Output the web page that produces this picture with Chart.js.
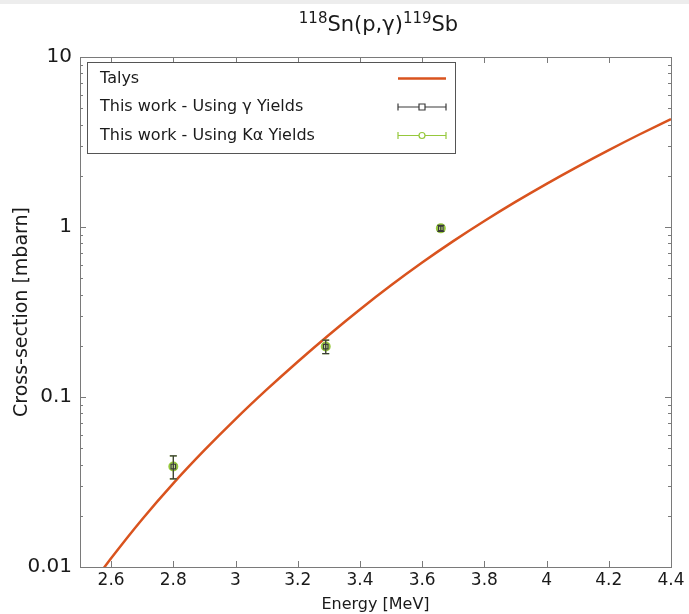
<!DOCTYPE html>
<html>
<head>
<meta charset="utf-8">
<script src="https://cdn.jsdelivr.net/npm/chart.js@4.4.0/dist/chart.umd.min.js"></script>
<style>
  html, body { margin: 0; padding: 0; background: #fff; }
  #wrap { width: 689px; height: 614px; position: relative; }
</style>
</head>
<body>
<div id="wrap"><canvas id="c" width="689" height="614"></canvas></div>
<script>
// Talys calculation (energy in MeV, cross-section in mbarn)
const talysEnergy = [2.55, 2.6, 2.7, 2.8, 2.9, 3.0, 3.1, 3.2, 3.3, 3.4, 3.5, 3.6, 3.7, 3.8, 3.9, 4.0, 4.1, 4.2, 4.3, 4.4];
const talysXs     = [0.00848, 0.01125, 0.0191, 0.03105, 0.04864, 0.07413, 0.1104, 0.1613, 0.2317, 0.3273, 0.4539, 0.618, 0.826, 1.085, 1.405, 1.795, 2.267, 2.835, 3.512, 4.315];

// Measured points
const expEnergy   = [2.80, 3.29, 3.66];
const gammaXs     = [0.039, 0.198, 0.982];
const gammaErr    = [0.006, 0.018, 0.040];
const kalphaXs    = [0.039, 0.198, 0.982];
const kalphaErr   = [0.006, 0.018, 0.040];

// Axis ticks
const xTicks      = [2.6, 2.8, 3.0, 3.2, 3.4, 3.6, 3.8, 4.0, 4.2, 4.4];
const xTickLabels = ['2.6', '2.8', '3', '3.2', '3.4', '3.6', '3.8', '4', '4.2', '4.4'];
const yTicks      = [0.01, 0.1, 1, 10];
const yTickLabels = ['0.01', '0.1', '1', '10'];

const FONT = "'DejaVu Sans', 'Liberation Sans', sans-serif";
const TALYS_COLOR = '#d9531e';
const GAMMA_COLOR = '#3a3a3a';
const KALPHA_COLOR = '#96c83c';
const FRAME_COLOR = '#7a7a7a';

const toXY = (xs, ys) => xs.map((x, i) => ({ x: x, y: ys[i] }));

// Vertical error bars, drawn just before each measured series' markers
const errorBarPlugin = {
  id: 'errorBars',
  beforeDatasetDraw(chart, args) {
    const ds = chart.data.datasets[args.index];
    if (!ds.yErr) return;
    const { ctx, scales: { x, y }, chartArea } = chart;
    ctx.save();
    ctx.beginPath();
    ctx.rect(chartArea.left, chartArea.top, chartArea.right - chartArea.left, chartArea.bottom - chartArea.top);
    ctx.clip();
    ctx.strokeStyle = ds.borderColor;
    ctx.lineWidth = 1.2;
    ds.data.forEach((p, i) => {
      const px = x.getPixelForValue(p.x);
      const yHi = y.getPixelForValue(p.y + ds.yErr[i]);
      const yLo = y.getPixelForValue(p.y - ds.yErr[i]);
      ctx.beginPath();
      ctx.moveTo(px, yHi); ctx.lineTo(px, yLo);
      ctx.moveTo(px - 3.5, yHi); ctx.lineTo(px + 3.5, yHi);
      ctx.moveTo(px - 3.5, yLo); ctx.lineTo(px + 3.5, yLo);
      ctx.stroke();
    });
    ctx.restore();
  }
};

// Box border with inward major/minor ticks on all four sides
const framePlugin = {
  id: 'frame',
  afterDatasetsDraw(chart) {
    const { ctx, chartArea: a, scales: { x, y } } = chart;
    ctx.save();
    ctx.strokeStyle = FRAME_COLOR;
    ctx.lineWidth = 1;
    ctx.beginPath();
    xTicks.forEach(v => {
      const px = Math.round(x.getPixelForValue(v)) + 0.5;
      ctx.moveTo(px, a.bottom); ctx.lineTo(px, a.bottom - 6);
      ctx.moveTo(px, a.top); ctx.lineTo(px, a.top + 6);
    });
    for (let d = 0.01; d < 5; d *= 10) {
      for (let k = 1; k <= 9; k++) {
        const py = Math.round(y.getPixelForValue(d * k)) + 0.5;
        const len = k === 1 ? 6 : 3;
        ctx.moveTo(a.left, py); ctx.lineTo(a.left + len, py);
        ctx.moveTo(a.right, py); ctx.lineTo(a.right - len, py);
      }
    }
    ctx.stroke();
    ctx.strokeRect(Math.round(a.left) + 0.5, Math.round(a.top) + 0.5,
                   Math.round(a.right - a.left), Math.round(a.bottom - a.top));
    ctx.restore();
  }
};

// Title with superscripted mass numbers
const titlePlugin = {
  id: 'isoTitle',
  afterDraw(chart) {
    const { ctx, chartArea: a } = chart;
    const parts = [
      { t: '118', sup: true }, { t: 'Sn(p,γ)', sup: false },
      { t: '119', sup: true }, { t: 'Sb', sup: false }
    ];
    const big = '21px ' + FONT, small = '15px ' + FONT;
    ctx.save();
    ctx.fillStyle = '#1a1a1a';
    ctx.textBaseline = 'alphabetic';
    let w = 0;
    parts.forEach(p => { ctx.font = p.sup ? small : big; p.w = ctx.measureText(p.t).width; w += p.w; });
    let cx = (a.left + a.right) / 2 - w / 2 + 3;
    const base = 31;
    parts.forEach(p => {
      ctx.font = p.sup ? small : big;
      ctx.fillText(p.t, cx, p.sup ? base - 8 : base);
      cx += p.w;
    });
    ctx.restore();
  }
};

// Legend box in the upper-left corner of the plot
const legendPlugin = {
  id: 'boxLegend',
  afterDraw(chart) {
    const { ctx } = chart;
    const box = { l: 87.5, t: 62.5, r: 455.5, b: 153.5 };
    const rows = [
      { label: 'Talys', kind: 'line', color: TALYS_COLOR, y: 78.5 },
      { label: 'This work - Using γ Yields', kind: 'rect', color: GAMMA_COLOR, y: 107 },
      { label: 'This work - Using Kα Yields', kind: 'circle', color: KALPHA_COLOR, y: 135.5 }
    ];
    ctx.save();
    ctx.fillStyle = '#fff';
    ctx.fillRect(box.l, box.t, box.r - box.l, box.b - box.t);
    ctx.strokeStyle = '#555';
    ctx.lineWidth = 1;
    ctx.strokeRect(box.l, box.t, box.r - box.l, box.b - box.t);
    ctx.font = '16px ' + FONT;
    ctx.textBaseline = 'middle';
    ctx.textAlign = 'left';
    const s0 = 398, s1 = 446, sc = 422;
    rows.forEach(r => {
      ctx.fillStyle = '#1a1a1a';
      ctx.fillText(r.label, 100, r.y);
      ctx.strokeStyle = r.color;
      if (r.kind === 'line') {
        ctx.lineWidth = 2.5;
        ctx.beginPath(); ctx.moveTo(s0, r.y); ctx.lineTo(s1, r.y); ctx.stroke();
      } else {
        ctx.lineWidth = 1.2;
        ctx.beginPath();
        ctx.moveTo(s0, r.y); ctx.lineTo(sc - 3, r.y);
        ctx.moveTo(sc + 3, r.y); ctx.lineTo(s1, r.y);
        ctx.moveTo(s0, r.y - 3.5); ctx.lineTo(s0, r.y + 3.5);
        ctx.moveTo(s1, r.y - 3.5); ctx.lineTo(s1, r.y + 3.5);
        ctx.stroke();
        ctx.beginPath();
        if (r.kind === 'rect') ctx.rect(sc - 3, r.y - 3, 6, 6);
        else ctx.arc(sc, r.y, 3, 0, Math.PI * 2);
        ctx.stroke();
      }
    });
    ctx.restore();
  }
};

// Thin grey strip along the top edge of the page
const topStripPlugin = {
  id: 'topStrip',
  beforeDraw(chart) {
    const { ctx } = chart;
    ctx.save();
    ctx.fillStyle = '#ededed';
    ctx.fillRect(0, 0, chart.width, 4);
    ctx.restore();
  }
};

new Chart(document.getElementById('c'), {
  type: 'scatter',
  data: {
    datasets: [
      {
        label: 'This work - Using γ Yields',
        data: toXY(expEnergy, gammaXs),
        yErr: gammaErr,
        borderColor: GAMMA_COLOR,
        backgroundColor: 'rgba(0,0,0,0)',
        pointStyle: 'rect',
        pointRadius: 3.2,
        pointBorderWidth: 1.2,
        order: 1
      },
      {
        label: 'This work - Using Kα Yields',
        data: toXY(expEnergy, kalphaXs),
        yErr: kalphaErr,
        borderColor: KALPHA_COLOR,
        backgroundColor: 'rgba(150,200,60,0.55)',
        pointStyle: 'circle',
        pointRadius: 4,
        pointBorderWidth: 2,
        order: 2
      },
      {
        label: 'Talys',
        data: toXY(talysEnergy, talysXs),
        showLine: true,
        borderColor: TALYS_COLOR,
        borderWidth: 2.5,
        pointRadius: 0,
        cubicInterpolationMode: 'monotone',
        clip: 0,
        order: 3
      }
    ]
  },
  options: {
    responsive: false,
    animation: false,
    events: [],
    layout: { padding: { top: 57, right: 18, left: 0, bottom: 0 } },
    plugins: {
      legend: { display: false },
      title: { display: false },
      tooltip: { enabled: false }
    },
    scales: {
      x: {
        type: 'linear',
        min: 2.5,
        max: 4.4,
        grid: { display: false, drawTicks: false },
        border: { display: false },
        afterBuildTicks: s => { s.ticks = xTicks.map(v => ({ value: v })); },
        afterFit: s => { s.height = 47; },
        ticks: {
          autoSkip: false,
          maxRotation: 0,
          padding: 3,
          color: '#1a1a1a',
          font: { family: FONT, size: 17 },
          callback: (v, i) => xTickLabels[i]
        },
        title: {
          display: true,
          text: 'Energy [MeV]',
          color: '#1a1a1a',
          font: { family: FONT, size: 16 },
          padding: { top: 0, bottom: 0 }
        }
      },
      y: {
        type: 'logarithmic',
        min: 0.01,
        max: 10,
        grid: { display: false, drawTicks: false },
        border: { display: false },
        afterBuildTicks: s => { s.ticks = yTicks.map(v => ({ value: v, major: true })); },
        afterFit: s => { s.width = 80; },
        ticks: {
          autoSkip: false,
          padding: 8,
          color: '#1a1a1a',
          font: { family: FONT, size: 20 },
          callback: (v, i) => yTickLabels[i]
        },
        title: {
          display: true,
          text: 'Cross-section [mbarn]',
          color: '#1a1a1a',
          font: { family: FONT, size: 19 },
          padding: { top: 11, bottom: 0 }
        }
      }
    }
  },
  plugins: [topStripPlugin, errorBarPlugin, framePlugin, titlePlugin, legendPlugin]
});
</script>
</body>
</html>
